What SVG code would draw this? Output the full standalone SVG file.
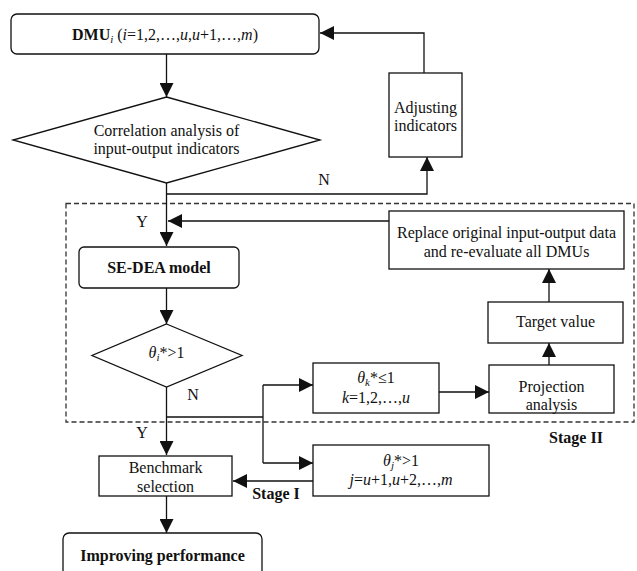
<svg xmlns="http://www.w3.org/2000/svg" width="637" height="571" viewBox="0 0 637 571">
<style>
.b{fill:#fff;stroke:#111;stroke-width:1.3}
.l{fill:none;stroke:#111;stroke-width:1.3}
.t{font-family:"Liberation Serif","Times New Roman",serif;font-size:16px;fill:#111;text-anchor:middle}
.bd{font-weight:bold}
.i{font-style:italic}
.s{font-size:11px}
</style>
<defs>
<marker id="a" markerUnits="userSpaceOnUse" markerWidth="14" markerHeight="14" viewBox="0 0 14 14" refX="14" refY="7" orient="auto">
<path d="M0,0 L14,7 L0,14 Z" fill="#111"/>
</marker>
</defs>
<rect x="66" y="203.5" width="568" height="218.5" fill="none" stroke="#333" stroke-width="1.3" stroke-dasharray="5,3"/>
<g id="connectors">
<path class="l" d="M166.5,54 V97" marker-end="url(#a)"/>
<path class="l" d="M166.5,183 V246" marker-end="url(#a)"/>
<path class="l" d="M166.5,194 H427 V157" marker-end="url(#a)"/>
<path class="l" d="M424,73 V33 H320" marker-end="url(#a)"/>
<path class="l" d="M389,221 H168" marker-end="url(#a)"/>
<path class="l" d="M166.5,288 V324" marker-end="url(#a)"/>
<path class="l" d="M166.5,387 V455" marker-end="url(#a)"/>
<path class="l" d="M166.5,417 H263"/>
<path class="l" d="M263,385 V463"/>
<path class="l" d="M263,385 H313" marker-end="url(#a)"/>
<path class="l" d="M263,463 H313" marker-end="url(#a)"/>
<path class="l" d="M313,481 H233" marker-end="url(#a)"/>
<path class="l" d="M166.5,496 V533" marker-end="url(#a)"/>
<path class="l" d="M439,392 H489" marker-end="url(#a)"/>
<path class="l" d="M549,365 V343" marker-end="url(#a)"/>
<path class="l" d="M549,302 V269" marker-end="url(#a)"/>
</g>
<g id="dmu">
<rect class="b" x="11" y="14" width="308" height="40" rx="6"/>
<text class="t" x="165" y="40"><tspan class="bd">DMU</tspan><tspan class="i s" dy="3">i</tspan><tspan dy="-3"> (</tspan><tspan class="i">i</tspan>=1,2,…,<tspan class="i">u</tspan>,<tspan class="i">u</tspan>+1,…,<tspan class="i">m</tspan>)</text>
</g>
<g id="correlation">
<polygon class="b" points="166.5,97 320,140 166.5,183 13,140"/>
<text class="t" x="166.5" y="136">Correlation analysis of</text>
<text class="t" x="166.5" y="154">input-output indicators</text>
</g>
<g id="adjusting">
<rect class="b" x="389" y="73" width="73" height="84"/>
<text class="t" x="425.5" y="113">Adjusting</text>
<text class="t" x="425.5" y="131">indicators</text>
</g>
<g id="labels">
<text class="t" x="324" y="185">N</text>
<text class="t" x="142" y="227">Y</text>
<text class="t" x="193" y="400">N</text>
<text class="t" x="142" y="438">Y</text>
<text class="t bd" x="276" y="499">Stage I</text>
<text class="t bd" x="576" y="443">Stage II</text>
</g>
<g id="sedea">
<rect class="b" x="79" y="247" width="160" height="41" rx="5"/>
<text class="t bd" x="159" y="273">SE-DEA model</text>
</g>
<g id="theta-i">
<polygon class="b" points="166.5,324 242,355.5 166.5,387 92,355.5"/>
<text class="t" x="166.5" y="358"><tspan class="i">θ</tspan><tspan class="i s" dy="3">i</tspan><tspan dy="-3">*&gt;1</tspan></text>
</g>
<g id="replace">
<rect class="b" x="389" y="211" width="235" height="58"/>
<text class="t" x="506.5" y="238">Replace original input-output data</text>
<text class="t" x="506.5" y="257">and re-evaluate all DMUs</text>
</g>
<g id="target">
<rect class="b" x="488" y="302" width="135" height="41"/>
<text class="t" x="555.5" y="327">Target value</text>
</g>
<g id="projection">
<rect class="b" x="489" y="365" width="125" height="48"/>
<text class="t" x="551.5" y="392">Projection</text>
<text class="t" x="551.5" y="410">analysis</text>
</g>
<g id="theta-k">
<rect class="b" x="313" y="363" width="126" height="50"/>
<text class="t" x="376" y="383"><tspan class="i">θ</tspan><tspan class="i s" dy="3">k</tspan><tspan dy="-3">*≤1</tspan></text>
<text class="t" x="376" y="403"><tspan class="i">k</tspan>=1,2,…,<tspan class="i">u</tspan></text>
</g>
<g id="theta-j">
<rect class="b" x="313" y="445" width="176" height="51"/>
<text class="t" x="401" y="466"><tspan class="i">θ</tspan><tspan class="i s" dy="3">j</tspan><tspan dy="-3">*&gt;1</tspan></text>
<text class="t" x="401" y="485"><tspan class="i">j</tspan>=<tspan class="i">u</tspan>+1,<tspan class="i">u</tspan>+2,…,<tspan class="i">m</tspan></text>
</g>
<g id="benchmark">
<rect class="b" x="99" y="456" width="133" height="40"/>
<text class="t" x="165.5" y="473">Benchmark</text>
<text class="t" x="165.5" y="492">selection</text>
</g>
<g id="improving">
<rect class="b" x="63" y="533" width="199" height="45" rx="6"/>
<text class="t bd" x="162.5" y="561">Improving performance</text>
</g>
</svg>
